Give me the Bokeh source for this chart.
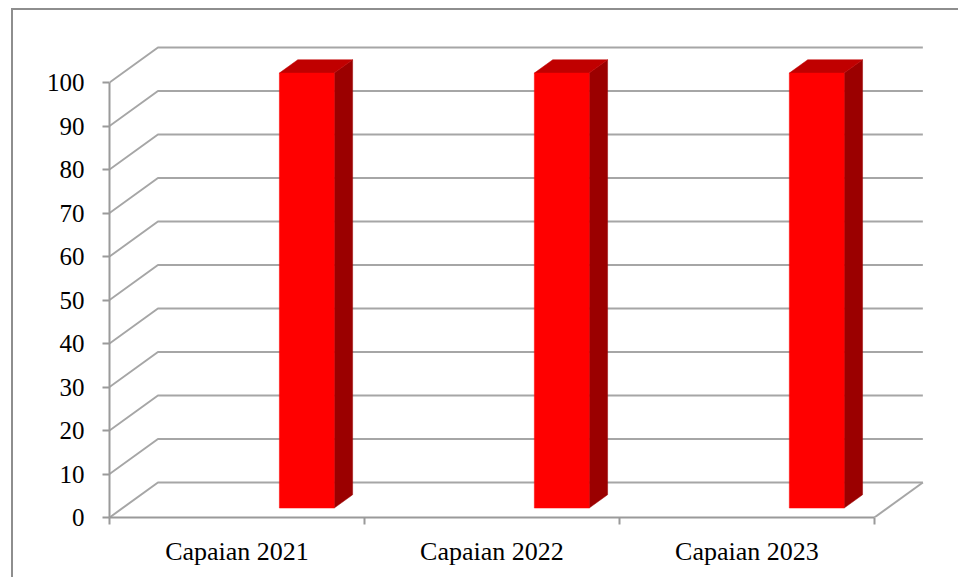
from bokeh.plotting import figure
from bokeh.models import FixedTicker, Range1d
from bokeh.embed import file_html
from bokeh.resources import INLINE

# ---- data ----
categories = ["Capaian 2021", "Capaian 2022", "Capaian 2023"]
values = [100, 100, 100]
y_ticks = [0, 10, 20, 30, 40, 50, 60, 70, 80, 90, 100]

# ---- 3D look (styles, in data units) ----
DEPTH_X = 0.19      # depth offset along x (category units)
DEPTH_Y = 8.05      # depth offset along y (value units)
BAR_LEFT = 0.615    # bar start within its category
BAR_WIDTH = 0.215
BAR_FRONT = 0.27    # fraction of depth where bar front face sits
BAR_BACK = 0.65     # fraction of depth where bar back face sits

FONT = "Liberation Serif"
GRID = "#a6a6a6"
AXIS = "#9a9a9a"

n = len(categories)
p = figure(width=947, height=569, output_backend="svg", toolbar_location=None,
           x_range=Range1d(0, 3.22), y_range=Range1d(0, 109.66),
           min_border_left=96, min_border_right=30, min_border_top=30,
           min_border_bottom=62)
p.styles = {"margin-left": "11px", "margin-top": "8px",
            "border-left": "2px solid #8e8e8e", "border-top": "2px solid #8e8e8e"}
p.outline_line_color = None
p.xgrid.visible = False
p.ygrid.visible = False
p.background_fill_color = "white"
p.border_fill_color = "white"

# 3D gridlines: front edge -> diagonal -> back wall
gx, gy = [], []
for v in y_ticks:
    gx.append([0, DEPTH_X, n + DEPTH_X])
    gy.append([v, v + DEPTH_Y, v + DEPTH_Y])
# floor right edge
gx.append([n, n + DEPTH_X])
gy.append([0, DEPTH_Y])
p.multi_line(gx, gy, line_color=GRID, line_width=2)

# 3D bars
fdx, fdy = BAR_FRONT * DEPTH_X, BAR_FRONT * DEPTH_Y
bdx, bdy = BAR_BACK * DEPTH_X, BAR_BACK * DEPTH_Y
front_l, front_r, front_b, front_t = [], [], [], []
side_xs, side_ys, top_xs, top_ys = [], [], [], []
for i, v in enumerate(values):
    x0 = i + BAR_LEFT
    x1 = x0 + BAR_WIDTH
    front_l.append(x0 + fdx); front_r.append(x1 + fdx)
    front_b.append(fdy); front_t.append(v + fdy)
    side_xs.append([x1 + fdx, x1 + bdx, x1 + bdx, x1 + fdx])
    side_ys.append([fdy, bdy, v + bdy, v + fdy])
    top_xs.append([x0 + fdx, x0 + bdx, x1 + bdx, x1 + fdx])
    top_ys.append([v + fdy, v + bdy, v + bdy, v + fdy])

p.patches(side_xs, side_ys, fill_color="#9b0000", line_color="#9b0000", line_width=0.5)
p.patches(top_xs, top_ys, fill_color="#c00000", line_color="#c00000", line_width=0.5)
p.quad(left=front_l, right=front_r, bottom=front_b, top=front_t,
       fill_color="#ff0000", line_color="#ff0000", line_width=0.5)

# x axis: labels at category centers, tick marks at category borders (minor ticks)
xax = p.xaxis[0]
xax.ticker = FixedTicker(ticks=[i + 0.5 for i in range(n)],
                         minor_ticks=list(range(n + 1)))
xax.major_label_overrides = {i + 0.5: c for i, c in enumerate(categories)}
xax.bounds = (0, n)
xax.axis_line_color = AXIS
xax.axis_line_width = 2
xax.major_tick_line_color = None
xax.major_tick_out = 0
xax.major_tick_in = 0
xax.minor_tick_line_color = AXIS
xax.minor_tick_line_width = 2
xax.minor_tick_out = 7
xax.minor_tick_in = 0
xax.major_label_standoff = 12
xax.major_label_text_font = FONT
xax.major_label_text_font_size = "26px"
xax.major_label_text_color = "black"

yax = p.yaxis[0]
yax.ticker = FixedTicker(ticks=y_ticks, minor_ticks=[])
yax.bounds = (0, 100)
yax.axis_line_color = AXIS
yax.axis_line_width = 2
yax.major_tick_line_color = AXIS
yax.major_tick_line_width = 2
yax.major_tick_out = 7
yax.major_tick_in = 0
yax.major_label_standoff = 18
yax.major_label_text_font = FONT
yax.major_label_text_font_size = "25px"
yax.major_label_text_color = "black"

open("out.html", "w").write(file_html(p, INLINE))
